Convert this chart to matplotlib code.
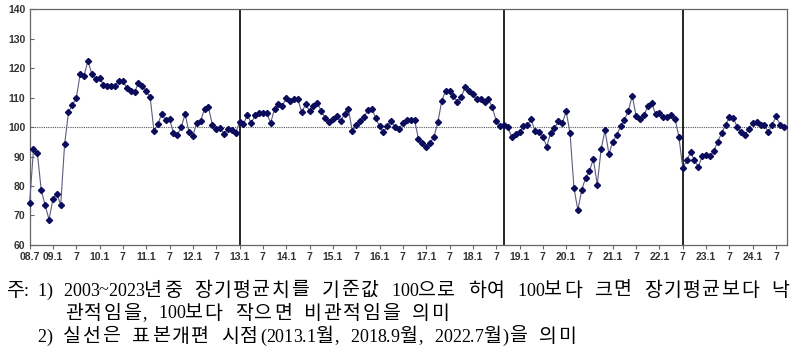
import matplotlib
import matplotlib.pyplot as plt

matplotlib.use("Agg")

# 월별 지수 (2008.7 ~ 2024.9)
values_08_13 = [
    74.2, 92.4, 91.1, 78.5, 73.6, 68.6, 75.6, 77.4, 73.6, 94.1, 105.0, 107.6,
    109.8, 117.9, 117.4, 122.5, 118.0, 116.3, 116.7, 114.4, 114.0, 113.9, 113.9, 115.8,
    115.6, 113.3, 112.2, 111.8, 115.0, 113.9, 112.2, 110.1, 98.6, 101.0, 104.6, 102.3,
    102.7, 98.1, 97.3, 100.0, 104.4, 98.3, 97.1, 101.5, 102.0, 106.3, 106.7, 100.8,
    99.4, 99.8, 97.6, 99.2, 99.0, 98.1,
]
values_13_18 = [
    101.7, 100.9, 104.2, 101.4, 104.0, 104.8, 104.8, 104.8, 101.4, 106.2, 107.9, 107.2,
    109.8, 108.8, 109.4, 109.4, 105.0, 107.8, 105.4, 107.2, 108.3, 105.5, 103.2, 101.6,
    102.8, 103.7, 101.9, 104.5, 106.1, 98.6, 100.6, 101.9, 103.4, 105.8, 106.3, 103.2,
    100.2, 98.3, 100.3, 102.0, 100.0, 99.2, 101.4, 102.3, 102.5, 102.5, 96.0, 94.6,
    93.1, 94.6, 96.7, 101.6, 108.9, 112.3, 112.3, 110.6, 108.6, 110.1, 113.5, 112.3,
    111.3, 109.4, 109.4, 108.5, 109.4, 106.8, 102.1, 100.3,
]
values_18_22 = [
    100.6, 100.0, 96.5, 97.6, 98.2, 100.3, 100.6, 102.6, 98.6, 98.5, 96.8, 93.4,
    98.0, 99.7, 101.9, 101.4, 105.3, 98.0, 79.4, 71.9, 78.6, 82.8, 85.2, 89.1,
    80.5, 92.6, 98.9, 90.8, 95.1, 97.2, 100.3, 102.5, 105.5, 110.7, 103.6, 102.7,
    104.0, 107.0, 108.3, 104.3, 104.9, 103.3, 103.5, 104.2, 102.9, 96.6,
]
values_22_24 = [
    86.1, 88.7, 91.5, 88.7, 86.5, 90.2, 90.6, 90.2, 92.0, 95.1, 98.0, 100.7,
    103.5, 103.2, 99.9, 98.2, 97.3, 99.5, 101.4, 101.7, 100.6, 100.6, 98.3, 100.8,
    103.6, 100.8, 100.0,
]
values = values_08_13 + values_13_18 + values_18_22 + values_22_24
months = list(range(len(values)))

# 표본개편 시점: 2013.1, 2018.9, 2022.7
revision_months = [54, 122, 168]

tick_months = list(range(0, 193, 6))
tick_labels = [
    "08.7", "09.1", "7", "10.1", "7", "11.1", "7", "12.1", "7", "13.1", "7",
    "14.1", "7", "15.1", "7", "16.1", "7", "17.1", "7", "18.1", "7", "19.1", "7",
    "20.1", "7", "21.1", "7", "22.1", "7", "23.1", "7", "24.1", "7",
]

note_line1 = "2003~2023년중 장기평균치를 기준값 100으로 하여 100보다 크면 장기평균보다 낙"
note_line2 = "관적임을, 100보다 작으면 비관적임을 의미"
note_line3 = "실선은 표본개편 시점(2013.1월, 2018.9월, 2022.7월)을 의미"

NOTE_FONT = ["Liberation Serif", "Noto Sans CJK KR"]
HANGUL_SIZE = 14
LATIN_SIZE = 13
SPACE_W = 11.0


def draw_chars(fig, renderer, line, x0, y, track=0.0, x1=None):
    # 글자 단위 배치, 한글에만 자간 적용 (x1이 있으면 양쪽 정렬)
    items = []
    for ch in line:
        if ch == " ":
            items.append((None, SPACE_W, False))
        else:
            wide = ord(ch) > 0x1100
            t = fig.text(0, 1 - y / 354, ch, family=NOTE_FONT,
                         fontsize=HANGUL_SIZE if wide else LATIN_SIZE,
                         va="center", ha="left")
            items.append((t, t.get_window_extent(renderer).width, wide))
    if x1 is not None:
        total = sum(w for _, w, _ in items)
        n_wide = sum(1 for _, _, wide in items if wide)
        track = (x1 - x0 - total) / n_wide
    x = x0
    for t, w, wide in items:
        if t is not None:
            t.set_x(x / 800)
        x += w + (track if wide else 0.0)
    return track


fig = plt.figure(figsize=(8.0, 3.54), dpi=100)
ax = fig.add_axes([0.037, 0.308, 0.947, 0.666])

ax.axhline(100, color="#555555", linestyle=(0, (1, 1)), linewidth=0.8, zorder=1)
for m in revision_months:
    ax.axvline(m, color="black", linewidth=1.2, zorder=2)

ax.plot(months, values, color="#5c5c80", linewidth=0.8, zorder=3,
        marker="D", markersize=3.1, markerfacecolor="#0b0b5c",
        markeredgecolor="#0b0b5c", clip_on=False)

ax.set_xlim(0, 194.85)
ax.set_ylim(60, 140)
ax.set_yticks(range(60, 141, 10))
ax.set_xticks(tick_months)
ax.set_xticklabels(tick_labels)

for spine in ax.spines.values():
    spine.set_color("#666666")
    spine.set_linewidth(0.9)

ax.tick_params(axis="y", direction="in", length=3, color="#666666", pad=3)
ax.tick_params(axis="x", direction="out", length=3, color="#666666", pad=2)
for lab in ax.get_xticklabels() + ax.get_yticklabels():
    lab.set_fontfamily("Liberation Sans")
    lab.set_fontweight("bold")
    lab.set_fontsize(7.5)
    lab.set_color("#333333")

renderer = fig.canvas.get_renderer()
draw_chars(fig, renderer, "주:", 6, 291)
draw_chars(fig, renderer, "1)", 37, 291)
track = draw_chars(fig, renderer, note_line1, 63, 291, x1=791)
draw_chars(fig, renderer, note_line2, 65, 314, track=track)
draw_chars(fig, renderer, "2)", 37, 337)
draw_chars(fig, renderer, note_line3, 63, 337, track=track)

fig.savefig("out.png", dpi=100)
plt.close(fig)
